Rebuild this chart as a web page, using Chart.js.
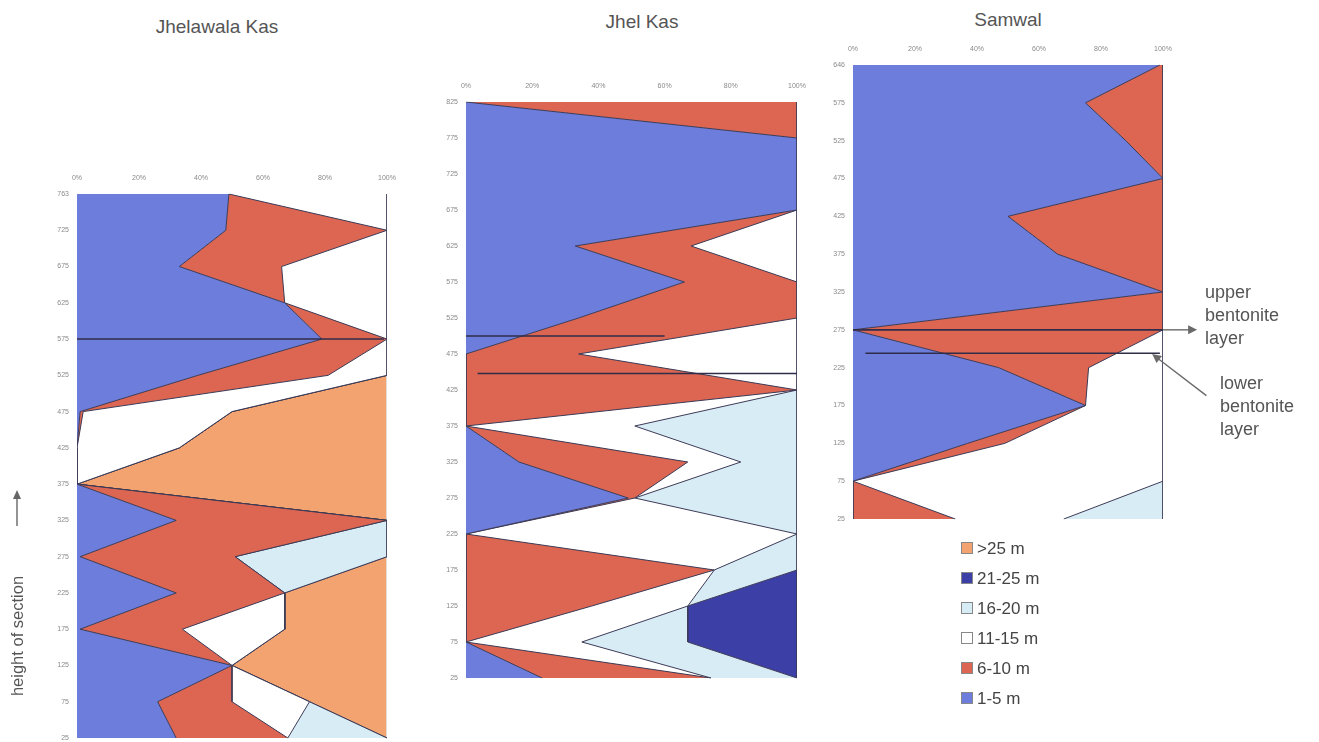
<!DOCTYPE html>
<html>
<head>
<meta charset="utf-8">
<script src="https://cdn.jsdelivr.net/npm/chart.js@4.4.1/dist/chart.umd.min.js"></script>
<style>
  body { margin: 0; background: #fff; width: 1319px; height: 742px; overflow: hidden; position: relative;
         font-family: 'Liberation Sans', Arial, Helvetica, sans-serif; }
  canvas { position: absolute; }
  .title { position: absolute; font-size: 19px; color: #555; transform: translate(-50%, -50%); white-space: nowrap; }
  .note { position: absolute; font-size: 18px; color: #555; line-height: 23px; white-space: nowrap; }
  #legend { position: absolute; left: 961px; top: 538px; }
  #legend div { height: 30px; line-height: 22px; font-size: 17px; color: #444; white-space: nowrap; }
  #legend span { display: inline-block; width: 10px; height: 10px; border: 1px solid #888; margin-right: 4px; vertical-align: 0px; }
  #ylabel { position: absolute; left: 17px; top: 636px; transform: translate(-50%, -50%) rotate(-90deg);
            font-size: 16.5px; color: #555; white-space: nowrap; }
  #yarrow { position: absolute; left: 11px; top: 488px; }
</style>
</head>
<body>
<div class="title" style="left:217px; top:27px;">Jhelawala Kas</div>
<div class="title" style="left:642px; top:22px;">Jhel Kas</div>
<div class="title" style="left:1008px; top:20px;">Samwal</div>

<canvas id="jhelawala" width="397" height="608" style="left:20px; top:150px;"></canvas>
<canvas id="jhel" width="417" height="638" style="left:410px; top:60px;"></canvas>
<canvas id="samwal" width="420" height="520" style="left:800px; top:20px;"></canvas>

<div class="note" style="left:1205px; top:281px;">upper<br>bentonite<br>layer</div>
<div class="note" style="left:1220px; top:372px;">lower<br>bentonite<br>layer</div>

<div id="ylabel">height of section</div>
<svg id="yarrow" width="12" height="40" viewBox="0 0 12 40">
  <line x1="6" y1="8" x2="6" y2="38" stroke="#666" stroke-width="1.4"/>
  <polygon points="6,2 2,11 10,11" fill="#666"/>
</svg>
<div id="legend"></div>

<script>
// Bed-thickness classes, in stacking order from the left edge (0 %) outwards
const classLabels = ['1-5 m', '6-10 m', '11-15 m', '16-20 m', '21-25 m', '>25 m'];
const classColors = ['#6c7ddb', '#dc6652', '#ffffff', '#d8ecf6', '#3b3fa6', '#f2a36f'];
const percentTicks = [0, 20, 40, 60, 80, 100];

// Jhelawala Kas section (percent of each class per height interval)
const jhelawalaHeights = ['763', '725', '675', '625', '575', '525', '475', '425', '375', '325', '275', '225', '175', '125', '75', '25'];
const jhelawala1to5   = [49, 48, 33, 67, 79, 39,  1,  0,   0, 32,  1, 32,  1, 50, 26, 32];
const jhelawala6to10  = [ 0, 52, 33,  0, 21, 42,  1,  0,   0, 68, 50, 35, 33,  0, 24, 36];
const jhelawala11to15 = [51,  0, 34, 33,  0, 19, 48, 33,   0,  0,  0,  0, 33,  0, 25,  0];
const jhelawala16to20 = [ 0,  0,  0,  0,  0,  0,  0,  0,   0,  0, 49,  0,  0,  0,  0, 32];
const jhelawala21to25 = [ 0,  0,  0,  0,  0,  0,  0,  0,   0,  0,  0,  0,  0,  0,  0,  0];
const jhelawalaOver25 = [ 0,  0,  0,  0,  0,  0, 50, 67, 100,  0,  0, 33, 33, 50, 25,  0];
const jhelawalaMarkers = [{ row: 4, from: 0, to: 99 }];

// Jhel Kas section
const jhelHeights = ['825', '775', '725', '675', '625', '575', '525', '475', '425', '375', '325', '275', '225', '175', '125', '75', '25'];
const jhel1to5   = [  0, 100, 100, 100, 33, 66, 34,  0,   0,  0, 16, 49,   0,  0,  0,  0, 23];
const jhel6to10  = [100,   0,   0,   0, 35, 34, 66, 34, 100,  0, 51,  2,   0, 75, 38,  0, 51];
const jhel11to15 = [  0,   0,   0,   0, 32,  0,  0, 66,   0, 51, 16,  0, 100,  0, 29, 35,  0];
const jhel16to20 = [  0,   0,   0,   0,  0,  0,  0,  0,   0, 49, 17, 49,   0, 25,  0, 32, 26];
const jhel21to25 = [  0,   0,   0,   0,  0,  0,  0,  0,   0,  0,  0,  0,   0,  0, 33, 33,  0];
const jhelOver25 = [  0,   0,   0,   0,  0,  0,  0,  0,   0,  0,  0,  0,   0,  0,  0,  0,  0];
const jhelMarkers = [{ row: 6.5, from: 0, to: 60 }, { row: 7.54, from: 3.5, to: 100 }];

// Samwal section
const samwalHeights = ['646', '575', '525', '475', '425', '375', '325', '275', '225', '175', '125', '75', '25'];
const samwal1to5   = [99, 75, 88, 100, 50, 66, 100,   0, 47, 75, 37,   0,  0];
const samwal6to10  = [ 1, 25, 12,   0, 50, 34,   0, 100, 29,  0, 12,   0, 33];
const samwal11to15 = [ 0,  0,  0,   0,  0,  0,   0,   0, 24, 25, 51, 100, 35];
const samwal16to20 = [ 0,  0,  0,   0,  0,  0,   0,   0,  0,  0,  0,   0, 32];
const samwal21to25 = [ 0,  0,  0,   0,  0,  0,   0,   0,  0,  0,  0,   0,  0];
const samwalOver25 = [ 0,  0,  0,   0,  0,  0,   0,   0,  0,  0,  0,   0,  0];
// upper bentonite layer (with pointer arrow) and lower bentonite layer
const samwalMarkers = [{ row: 7, from: 0, to: 100, arrowTo: 111 }, { row: 7.62, from: 4, to: 99 }];
const samwalPointer = { fromX: 114, fromRow: 8.74, toX: 96.5, toRow: 7.64 };

// Horizontal marker lines (bentonite horizons) and pointer arrows
const markerPlugin = {
  id: 'markers',
  afterDatasetsDraw(chart, args, opts) {
    const { ctx, scales: { x, y } } = chart;
    const head = (x0, y0, x1, y1) => {
      const a = Math.atan2(y1 - y0, x1 - x0), L = 9, W = 4.5;
      ctx.beginPath();
      ctx.moveTo(x1, y1);
      ctx.lineTo(x1 - L * Math.cos(a) + W * Math.sin(a), y1 - L * Math.sin(a) - W * Math.cos(a));
      ctx.lineTo(x1 - L * Math.cos(a) - W * Math.sin(a), y1 - L * Math.sin(a) + W * Math.cos(a));
      ctx.closePath();
      ctx.fill();
    };
    ctx.save();
    (opts.lines || []).forEach(m => {
      const py = y.getPixelForValue(m.row);
      ctx.strokeStyle = '#2f2d4a';
      ctx.lineWidth = 1.6;
      ctx.beginPath();
      ctx.moveTo(x.getPixelForValue(m.from), py);
      ctx.lineTo(x.getPixelForValue(m.to), py);
      ctx.stroke();
      if (m.arrowTo !== undefined) {
        const xe = x.getPixelForValue(m.arrowTo);
        ctx.strokeStyle = '#6a6a6a';
        ctx.fillStyle = '#6a6a6a';
        ctx.lineWidth = 1.4;
        ctx.beginPath();
        ctx.moveTo(x.getPixelForValue(m.to), py);
        ctx.lineTo(xe - 6, py);
        ctx.stroke();
        head(x.getPixelForValue(m.to), py, xe, py);
      }
    });
    if (opts.pointer) {
      const p = opts.pointer;
      const x0 = x.getPixelForValue(p.fromX), y0 = y.getPixelForValue(p.fromRow);
      const x1 = x.getPixelForValue(p.toX), y1 = y.getPixelForValue(p.toRow);
      ctx.strokeStyle = '#6a6a6a';
      ctx.fillStyle = '#6a6a6a';
      ctx.lineWidth = 1.4;
      ctx.beginPath();
      ctx.moveTo(x0, y0);
      ctx.lineTo(x1 + (x0 - x1) * 0.1, y1 + (y0 - y1) * 0.1);
      ctx.stroke();
      head(x0, y0, x1, y1);
    }
    ctx.restore();
  }
};

function makeSection(id, heights, series, box, markers, pointer) {
  const datasets = series.map((values, i) => ({
    label: classLabels[i],
    data: values,
    backgroundColor: classColors[i],
    // the outermost boundary is the 100 % edge, kept faint
    borderColor: i === series.length - 1 ? '#e2e2e2' : '#3c3a56',
    borderWidth: 1,
    fill: i === 0 ? 'origin' : '-1',
    pointRadius: 0,
    pointHoverRadius: 0,
    tension: 0
  }));
  return new Chart(document.getElementById(id), {
    type: 'line',
    data: { labels: heights, datasets },
    plugins: [markerPlugin],
    options: {
      indexAxis: 'y',
      responsive: false,
      animation: false,
      devicePixelRatio: 1,
      events: [],
      layout: { autoPadding: false, padding: { left: 0, top: 0, right: box.right, bottom: box.bottom } },
      elements: { line: { borderJoinStyle: 'miter' } },
      plugins: {
        legend: { display: false },
        tooltip: { enabled: false },
        markers: { lines: markers, pointer: pointer }
      },
      scales: {
        x: {
          type: 'linear',
          position: 'top',
          stacked: true,
          min: 0,
          max: 100,
          afterBuildTicks: s => { s.ticks = percentTicks.map(v => ({ value: v })); },
          afterFit: s => { s.height = box.top; },
          grid: { display: false, drawTicks: false },
          border: { display: false },
          ticks: {
            callback: v => v + '%',
            font: { size: 7, family: "'Liberation Sans', Arial, sans-serif" },
            color: '#8a8a8a',
            padding: 12,
            maxRotation: 0
          }
        },
        y: {
          type: 'category',
          offset: false,
          afterFit: s => { s.width = box.left; },
          grid: { display: false, drawTicks: false },
          border: { display: false },
          ticks: {
            autoSkip: false,
            font: { size: 7, family: "'Liberation Sans', Arial, sans-serif" },
            color: '#8a8a8a',
            padding: 8
          }
        }
      }
    }
  });
}

makeSection('jhelawala', jhelawalaHeights,
  [jhelawala1to5, jhelawala6to10, jhelawala11to15, jhelawala16to20, jhelawala21to25, jhelawalaOver25],
  { left: 57, top: 44, right: 30, bottom: 20 }, jhelawalaMarkers, null);

makeSection('jhel', jhelHeights,
  [jhel1to5, jhel6to10, jhel11to15, jhel16to20, jhel21to25, jhelOver25],
  { left: 56, top: 42, right: 30, bottom: 20 }, jhelMarkers, null);

makeSection('samwal', samwalHeights,
  [samwal1to5, samwal6to10, samwal11to15, samwal16to20, samwal21to25, samwalOver25],
  { left: 53, top: 45, right: 57, bottom: 21 }, samwalMarkers, samwalPointer);

// Legend, listed from the thickest class down
const legend = document.getElementById('legend');
for (let i = classLabels.length - 1; i >= 0; i--) {
  const row = document.createElement('div');
  const sw = document.createElement('span');
  sw.style.background = classColors[i];
  row.appendChild(sw);
  row.appendChild(document.createTextNode(classLabels[i]));
  legend.appendChild(row);
}
</script>
</body>
</html>
